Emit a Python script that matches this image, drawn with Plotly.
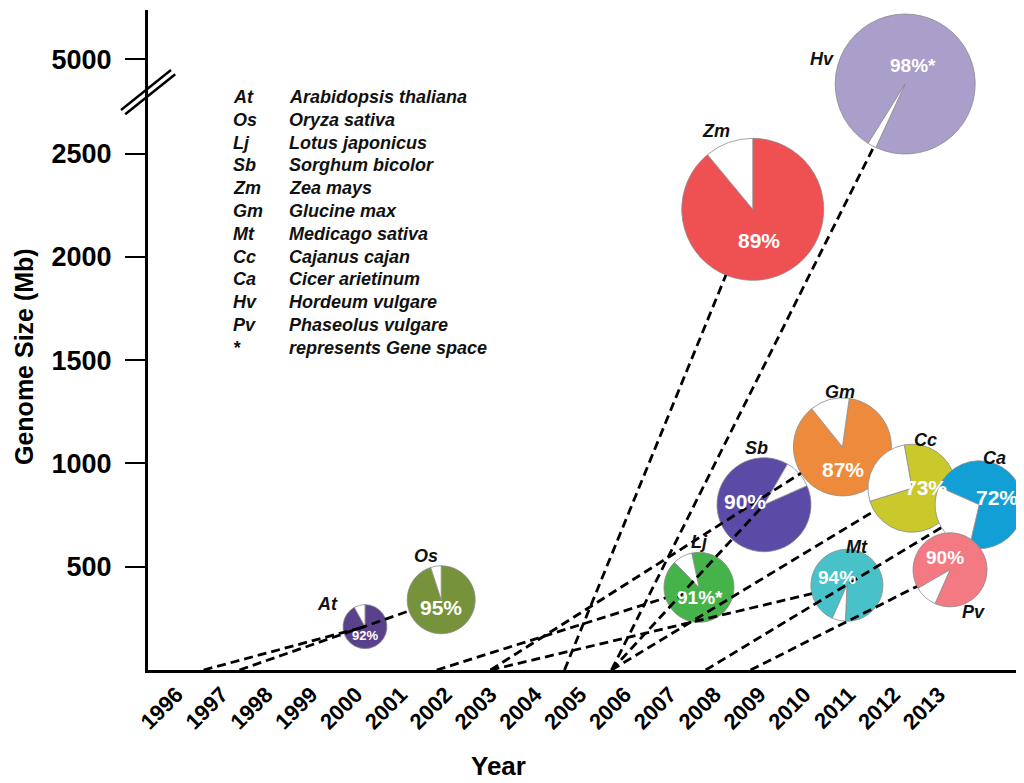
import plotly.graph_objects as go
import math

# ---------------- data ----------------
species_code = ["At", "Os", "Lj", "Sb", "Zm", "Gm", "Mt", "Cc", "Ca", "Hv", "Pv"]
species_name = ["Arabidopsis thaliana", "Oryza sativa", "Lotus japonicus", "Sorghum bicolor",
                "Zea mays", "Glucine max", "Medicago sativa", "Cajanus cajan",
                "Cicer arietinum", "Hordeum vulgare", "Phaseolus vulgare"]
coverage_pct = [92, 95, 91, 90, 89, 87, 94, 73, 72, 98, 90]
gene_space_only = [False, False, True, False, False, False, False, False, False, True, False]
pie_year = [2000.2, 2001.9, 2007.65, 2009.1, 2008.85, 2010.85, 2010.95, 2012.4, 2013.9, 2012.25, 2013.25]
genome_size_mb = [210, 340, 400, 800, 2230, 1080, 410, 880, 800, 4340, 485]
line_start_year = [1996.6, 1997.4, 2001.8, 2005.7, 2004.65, 2003.0, 2003.0, 2005.7, 2007.8, 2005.7, 2008.8]
year_ticks = list(range(1996, 2014))
size_ticks = [500, 1000, 1500, 2000, 2500, 5000]

# ---------------- style ----------------
pie_colors = ["#5a418c", "#76923a", "#46b34a", "#5b4aa6", "#ef5052", "#ee8a3c",
              "#48c2c8", "#c9c92c", "#129fd5", "#aa9ecb", "#f37a82"]
pie_radius_px = [22, 34, 35, 47, 71, 49, 36, 44, 44, 70, 37]
pie_rotation = [0, 0, -12, 66, 0, 8, 204, -10, -66, 212, 240]
line_stops_at_rim = [False, True, True, False, True, True, True, True, True, True, True]
code_offset = [(-37, -23), (-15, -44), (1, -45), (-7, -57), (-37, -78), (-2, -55),
               (10, -38), (14, -48), (15, -47), (-83, -25), (23, 42)]
pct_offset = [(0, 9), (0, 8), (1, 10), (-19, -3), (6, 31), (1, 23),
              (-10, -8), (14, -1), (18, -7), (8, -19), (-5, -12)]
pct_size = [13, 21, 19, 21, 21, 21, 19, 21, 21, 19, 19]
pct_narrow = [True, True, True, False, False, False, False, False, False, False, False]

# page geometry (the page body has an 8px margin)
BODY = 8
W, H = 1024 - BODY, 783 - BODY
ML_PAGE, MT_PAGE, BOTTOM_PAGE = 148, 10, 670
ML, MT = ML_PAGE - BODY, MT_PAGE - BODY
MB = H - (BOTTOM_PAGE - BODY)
PW, PH = W - ML, BOTTOM_PAGE - MT_PAGE
X_RANGE = [1995.36, 2014.9]
Y_RANGE = [0, 3195]
BREAK_AT, BREAK_SCALE = 2500, 0.183
FONT = "Liberation Sans, Arial, sans-serif"
NARROW = "Liberation Sans Narrow, Liberation Sans, Arial, sans-serif"


def to_axis(v):
    return v if v <= BREAK_AT else BREAK_AT + (v - BREAK_AT) * BREAK_SCALE


def px_x(x):
    return ML_PAGE + (x - X_RANGE[0]) / (X_RANGE[1] - X_RANGE[0]) * PW


def px_y(y):
    return BOTTOM_PAGE - (y - Y_RANGE[0]) / (Y_RANGE[1] - Y_RANGE[0]) * PH


def data_x(px):
    return X_RANGE[0] + (px - ML_PAGE) / PW * (X_RANGE[1] - X_RANGE[0])


def data_y(py):
    return Y_RANGE[0] + (BOTTOM_PAGE - py) / PH * (Y_RANGE[1] - Y_RANGE[0])


def paper_x(px):
    return (px - ML_PAGE) / PW


def paper_y(py):
    return (BOTTOM_PAGE - py) / PH


fig = go.Figure()
shapes = []
annotations = []

for i, code in enumerate(species_code):
    ya = to_axis(genome_size_mb[i])
    cx, cy = px_x(pie_year[i]), px_y(ya)
    r = pie_radius_px[i]
    p = coverage_pct[i]
    fig.add_trace(go.Pie(
        values=[p, 100 - p], sort=False, direction="clockwise", rotation=pie_rotation[i],
        marker=dict(colors=[pie_colors[i], "white"], line=dict(color="#8a8a8a", width=0.8)),
        textinfo="none", hoverinfo="skip", showlegend=False,
        domain=dict(x=[paper_x(cx - r), paper_x(cx + r)],
                    y=[paper_y(cy + r), paper_y(cy - r)]),
    ))
    # dashed connector from the x axis to the pie
    sx, sy = px_x(line_start_year[i]), px_y(0)
    dx, dy = cx - sx, cy - sy
    ln = math.hypot(dx, dy)
    rim = r if line_stops_at_rim[i] else 0
    ex, ey = cx - rim * dx / ln, cy - rim * dy / ln
    shapes.append(dict(type="line", xref="x", yref="y", layer="above",
                       x0=line_start_year[i], y0=0, x1=data_x(ex), y1=data_y(ey),
                       line=dict(color="black", width=2.8, dash="9px,5px")))
    # species code next to the pie
    annotations.append(dict(x=pie_year[i], y=ya, xref="x", yref="y", text=code,
                            xshift=code_offset[i][0], yshift=-code_offset[i][1],
                            showarrow=False, xanchor="center", yanchor="middle",
                            font=dict(family=FONT, size=18, color="#111", style="italic",
                                      weight="bold")))
    # percentage inside the pie
    annotations.append(dict(x=pie_year[i], y=ya, xref="x", yref="y",
                            text=f"{p}%" + ("*" if gene_space_only[i] else ""),
                            xshift=pct_offset[i][0], yshift=-pct_offset[i][1],
                            showarrow=False, xanchor="center", yanchor="middle",
                            font=dict(family=NARROW if pct_narrow[i] else FONT, size=pct_size[i],
                                      color="white", weight="bold")))

# key block (abbreviation / species name)
key_rows = list(zip(species_code, species_name)) + [("*", "represents Gene space")]
for j, (a, nm) in enumerate(key_rows):
    py = 97 + j * 22.8
    for txt, px in ((a, 231), (nm, 287)):
        annotations.append(dict(x=paper_x(px), y=paper_y(py), xref="paper", yref="paper",
                                text=txt, showarrow=False, xanchor="left", yanchor="middle",
                                font=dict(family=FONT, size=18, color="#111", style="italic",
                                          weight="bold")))

# axis titles
annotations.append(dict(x=paper_x(24), y=paper_y(357), xref="paper", yref="paper",
                        text="Genome Size (Mb)", textangle=-90, showarrow=False,
                        xanchor="center", yanchor="middle",
                        font=dict(family=FONT, size=25, color="black", weight="bold")))
annotations.append(dict(x=paper_x(498), y=paper_y(766), xref="paper", yref="paper",
                        text="Year", showarrow=False, xanchor="center", yanchor="middle",
                        font=dict(family=FONT, size=26, color="black", weight="bold")))

# axis break marks
for off in (0, 7):
    shapes.append(dict(type="line", xref="paper", yref="paper", layer="above",
                       x0=paper_x(121 + off * 0.6), y0=paper_y(110 + off * 0.6),
                       x1=paper_x(171 + off * 0.6), y1=paper_y(70 + off * 0.6),
                       line=dict(color="black", width=2.5)))

fig.update_layout(
    width=W, height=H, margin=dict(l=ML, r=0, t=MT, b=MB, pad=0),
    paper_bgcolor="white", plot_bgcolor="white",
    shapes=shapes, annotations=annotations, showlegend=False,
    xaxis=dict(range=X_RANGE, tickvals=year_ticks, ticktext=[str(y) for y in year_ticks],
               tickangle=-45, ticks="", showgrid=False, zeroline=False,
               showline=True, linewidth=3, linecolor="black",
               tickfont=dict(family=FONT, size=22, color="black", weight="bold")),
    yaxis=dict(range=Y_RANGE, tickvals=[to_axis(v) for v in size_ticks],
               ticktext=[str(v) for v in size_ticks], ticks="outside", ticklen=20,
               tickwidth=2, tickcolor="black", ticklabelstandoff=8,
               showgrid=False, zeroline=False, showline=True, linewidth=3, linecolor="black",
               tickfont=dict(family=FONT, size=27, color="black", weight="bold")),
)

fig.write_html("out.html")
